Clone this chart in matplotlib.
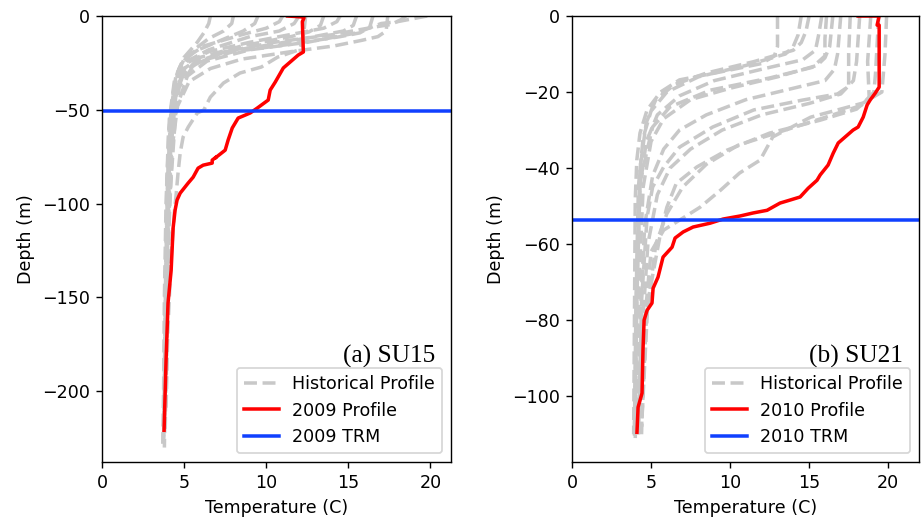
import matplotlib
matplotlib.use("Agg")
import matplotlib.pyplot as plt

# ---------------- SU15 ----------------
su15_hist_temp = [
    [6.6, 6.5, 6.2, 5.8, 5.0, 4.6, 4.3, 4.05, 3.9, 3.8, 3.75, 3.7],
    [9.5, 9.3, 8.6, 7.5, 5.6, 4.8, 4.4, 4.1, 3.95, 3.85, 3.75],
    [12.0, 11.7, 10.8, 9.0, 6.5, 5.2, 4.6, 4.25, 4.0, 3.9, 3.8],
    [13.5, 13.3, 12.6, 11.5, 8.5, 6.0, 5.0, 4.45, 4.15, 3.95, 3.8],
    [15.5, 15.3, 14.7, 13.5, 10.5, 7.5, 5.6, 4.8, 4.4, 4.1, 3.9, 3.8],
    [19.8, 19.2, 18.0, 17.0, 15.5, 12.5, 9.0, 6.4, 5.2, 4.5, 4.1, 3.9],
    [17.4, 17.3, 16.8, 15.8, 14.1, 11.5, 8.5, 6.6, 5.3, 4.6, 4.2, 3.95, 3.85],
    [12.4, 12.3, 12.2, 12.0, 10.7, 9.7, 8.4, 7.4, 6.6, 6.2, 5.8, 5.25, 4.94,
     4.76, 4.63, 4.5, 4.4, 4.2, 4.0, 3.9],
    [11.0, 10.8, 10.0, 8.5, 6.2, 5.0, 4.5, 4.2, 4.0, 3.85, 3.75],
    [14.5, 14.3, 13.5, 12.0, 9.0, 6.5, 5.2, 4.6, 4.25, 4.0, 3.85],
    [16.5, 16.3, 15.7, 14.5, 11.5, 8.0, 6.0, 5.0, 4.5, 4.1, 3.9, 3.8],
    [18.5, 18.2, 17.6, 16.5, 14.0, 10.5, 7.5, 5.6, 4.7, 4.3, 3.95, 3.8],
    [8.0, 7.9, 7.4, 6.5, 5.3, 4.7, 4.35, 4.1, 3.9, 3.75],
]
su15_hist_depth = [
    [0, -4, -9, -14, -22, -30, -45, -62, -100, -150, -200, -228],
    [0, -4, -8, -12, -19, -26, -35, -55, -90, -150, -225],
    [0, -4, -8, -11, -18, -24, -32, -50, -85, -140, -220],
    [0, -5, -8.5, -11, -16, -22, -28, -42, -75, -130, -215],
    [0, -5, -8, -10, -15, -19, -25, -33, -45, -75, -140, -230],
    [0, -1, -3, -4, -9, -14, -18, -24, -32, -50, -100, -200],
    [0, -8, -11, -13, -16, -19, -23, -28, -35, -48, -75, -130, -210],
    [0, -8, -14, -18, -21.9, -27.2, -30.4, -35.7, -43.2, -50.1, -51.7, -59.2,
     -64.5, -73, -83.7, -96.5, -105, -130, -170, -210],
    [0, -3, -6.5, -10, -16, -23, -32, -50, -85, -150, -226],
    [0, -3, -6.5, -9, -14, -19, -25, -36, -65, -125, -220],
    [0, -6, -9, -11, -15, -19, -24, -30, -42, -80, -160, -222],
    [0, -2, -4.5, -6, -10, -14, -19, -26, -38, -65, -140, -215],
    [0, -4, -8, -12, -20, -28, -40, -60, -120, -224],
]
su15_2009_temp = [11.3, 12.2, 12.3, 12.2, 12.26, 11.95, 11.04, 10.55, 10.24,
                  10.12, 9.45, 9.02, 8.29, 7.93, 7.68, 7.5, 6.89, 6.95, 6.71,
                  6.71, 6.16, 5.85, 5.55, 5.24, 4.76, 4.57, 4.45, 4.33, 4.21,
                  4.02, 3.9, 3.78]
su15_2009_depth = [0, -0.5, -1, -3, -19.2, -20.8, -27.7, -35.2, -39.5, -44.8,
                   -49.1, -51.7, -54.4, -59.7, -66.1, -71.5, -75.7, -75.2,
                   -76.8, -78.4, -79.5, -81.1, -85.9, -89.1, -94.4, -98.1,
                   -103.5, -113, -135.5, -153, -183.5, -220.8]
su15_trm_2009 = -50.7

# ---------------- SU21 ----------------
su21_hist_temp = [
    [13.0, 13.0, 12.8, 12.0, 9.4, 6.8, 5.6, 4.75, 4.3, 4.1, 4.0, 3.95, 3.9],
    [14.5, 14.3, 14.0, 13.5, 11.0, 8.0, 6.0, 5.0, 4.5, 4.2, 4.05, 3.95],
    [16.1, 16.0, 16.0, 15.2, 12.5, 8.75, 6.2, 5.1, 4.75, 4.3, 4.1, 4.0],
    [16.5, 16.3, 16.0, 15.5, 13.0, 10.0, 7.5, 5.8, 5.0, 4.5, 4.2, 4.0],
    [17.6, 17.5, 17.5, 16.8, 14.6, 11.5, 8.9, 6.8, 5.8, 5.1, 4.75, 4.4, 4.2],
    [18.9, 18.7, 18.8, 18.0, 15.7, 12.5, 9.8, 7.9, 6.6, 6.0, 5.6, 4.8, 4.4],
    [19.9, 19.8, 19.6, 18.4, 15.1, 12.7, 11.9, 10.6, 9.4, 8.1, 6.8, 5.8, 5.0,
     4.6, 4.4],
    [15.0, 14.8, 14.5, 14.0, 11.5, 8.5, 6.5, 5.3, 4.7, 4.3, 4.1, 3.95],
    [17.0, 16.8, 16.6, 16.0, 14.0, 11.0, 8.5, 6.8, 5.8, 5.1, 4.6, 4.3, 4.1],
    [18.2, 18.0, 17.8, 17.0, 15.0, 12.0, 9.5, 7.5, 6.2, 5.4, 4.8, 4.4, 4.2],
    [19.4, 19.2, 19.1, 18.3, 16.5, 13.5, 10.5, 8.5, 7.0, 6.0, 5.3, 4.7, 4.4],
    [15.8, 15.6, 15.4, 14.6, 12.0, 9.0, 6.8, 5.4, 4.7, 4.3, 4.1, 3.95],
]
su21_hist_depth = [
    [0, -8, -10.5, -12.5, -14.7, -16.8, -20, -24.7, -30.8, -37.9, -48.4, -80,
     -110],
    [0, -5, -8, -10, -13, -16, -20, -25, -32, -45, -75, -108],
    [0, -6, -10.5, -13.5, -16.3, -19.5, -23.9, -29.2, -35.3, -43.9, -70, -110],
    [0, -8, -11, -13, -16, -19, -22, -27, -33, -45, -75, -111],
    [0, -10, -18.5, -20.5, -22.1, -24.7, -29.2, -34.5, -39.7, -45, -52.9, -75,
     -110],
    [0, -12, -21.5, -24.5, -27.4, -30.8, -35.3, -39.7, -44, -50.3, -57.1, -75,
     -108],
    [0, -10, -20, -22.9, -26.6, -31.8, -37.9, -41.3, -45.8, -50.3, -53.7,
     -56.3, -62, -80, -110],
    [0, -4, -7, -9, -12, -15, -18, -22, -28, -40, -70, -110],
    [0, -10, -14, -17, -19, -22, -26, -30, -35, -42, -55, -80, -109],
    [0, -12, -17, -20.5, -23, -26, -30, -35, -40, -47, -60, -85, -110],
    [0, -15, -20, -23.5, -26, -30, -34, -39, -45, -52, -60, -80, -108],
    [0, -5, -9, -11.5, -14, -17, -21, -26, -33, -45, -75, -111],
]
su21_2010_temp = [18.1, 19.43, 19.3, 19.43, 19.43, 19.18, 18.86, 18.67, 18.42,
                  18.1, 17.78, 16.84, 16.52, 16.2, 15.7, 15.5, 14.94, 14.43,
                  13.8, 13.16, 12.34, 11.46, 10.63, 9.56, 8.73, 7.66, 7.03,
                  6.52, 6.33, 5.76, 5.44, 5.13, 5.06, 4.75, 4.56, 4.49, 4.43,
                  4.18, 4.11]
su21_2010_depth = [0, 0, -2.4, -2.4, -18.7, -20.3, -22.1, -23.4, -26.6, -29.2,
                   -30.0, -33.4, -36.1, -39.2, -41.8, -43.2, -45.3, -47.6,
                   -48.4, -49.2, -51.1, -51.8, -52.6, -53.4, -54.5, -55.5,
                   -56.8, -58.4, -60.8, -63.4, -68.7, -71.6, -75.5, -77.4, -80,
                   -87.9, -99.2, -102.9, -109.5]
su21_trm_2010 = -53.7

HIST_COLOR = "#c8c8c8"
PROFILE_COLOR = "#ff0000"
TRM_COLOR = "#1040ff"

W, H, DPI = 921, 518, 126
fig = plt.figure(figsize=(W / DPI, H / DPI), dpi=DPI)

ax_l = fig.add_axes([102 / W, 1 - 462 / H, 349 / W, 446 / H])
ax_r = fig.add_axes([572 / W, 1 - 462 / H, 347 / W, 446 / H])


def draw_panel(ax, hist_t, hist_d, prof_t, prof_d, trm, year, tag, xlim, ylim):
    for i, (t, d) in enumerate(zip(hist_t, hist_d)):
        ax.plot(t, d, color=HIST_COLOR, ls="--", lw=2,
                label="Historical Profile" if i == 0 else None)
    ax.plot(prof_t, prof_d, color=PROFILE_COLOR, lw=2,
            label=f"{year} Profile")
    ax.axhline(trm, color=TRM_COLOR, lw=2, label=f"{year} TRM")
    ax.set_xlim(*xlim)
    ax.set_ylim(*ylim)
    ax.set_xticks([0, 5, 10, 15, 20])
    ax.set_xlabel("Temperature (C)")
    ax.set_ylabel("Depth (m)")
    ax.legend(loc="lower right")
    ax.text(0.954, 0.224, tag, transform=ax.transAxes, ha="right",
            va="baseline", fontsize=14.5, family="Liberation Serif")


draw_panel(ax_l, su15_hist_temp, su15_hist_depth, su15_2009_temp,
           su15_2009_depth, su15_trm_2009, 2009, "(a) SU15",
           (0, 21.25), (-237.7, 0))
ax_l.set_yticks([0, -50, -100, -150, -200])

draw_panel(ax_r, su21_hist_temp, su21_hist_depth, su21_2010_temp,
           su21_2010_depth, su21_trm_2010, 2010, "(b) SU21",
           (0, 21.95), (-117.3, 0))
ax_r.set_yticks([0, -20, -40, -60, -80, -100])

fig.savefig("out.png", dpi=DPI)
